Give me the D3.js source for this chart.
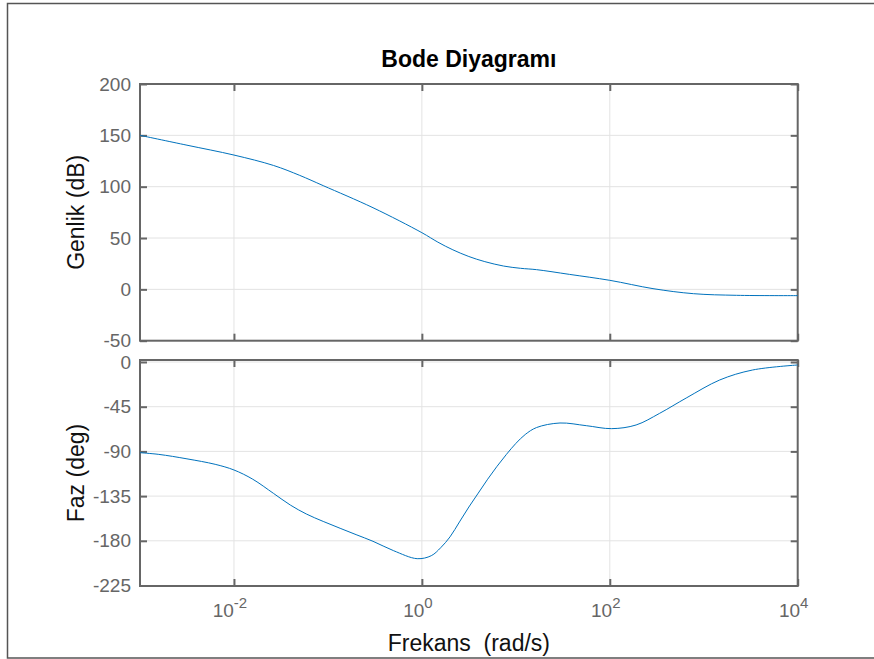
<!DOCTYPE html>
<html>
<head>
<meta charset="utf-8">
<script src="https://cdn.jsdelivr.net/npm/d3@7/dist/d3.min.js"></script>
<style>
  html, body { margin: 0; padding: 0; background: #fff; }
  svg { display: block; font-family: "Liberation Sans", Arial, Helvetica, sans-serif; }
</style>
</head>
<body>
<svg id="chart" width="874" height="659"></svg>
<script>
// ---- Data ----
const titleText = "Bode Diyagramı";
const xLabelText = "Frekans  (rad/s)";
const magLabelText = "Genlik (dB)";
const phaseLabelText = "Faz (deg)";

const xTickExponents = [-2, 0, 2, 4];
const magTicks = [200, 150, 100, 50, 0, -50];
const phaseTicks = [0, -45, -90, -135, -180, -225];

// log10 of frequency (rad/s) and magnitude in dB
const magLogFreq = [-3, -2.5, -2, -1.58, -1.3, -1.05, -0.52, 0.0, 0.17, 0.33, 0.5, 0.67, 0.87, 1.05, 1.22, 1.57, 2.0, 2.46, 2.89, 3.35, 4.0];
const magDb      = [150, 140.4, 130.8, 120.7, 111, 101, 79.5, 55.2, 46, 38.5, 32, 27, 22.7, 20.5, 19.2, 14.6, 8.8, 0.7, -4.2, -5.8, -6.1];

// log10 of frequency (rad/s) and phase in degrees
const phaseLogFreq = [-3, -2.8, -2.5, -2.2, -2.0, -1.8, -1.58, -1.4, -1.23, -1.05, -0.87, -0.7, -0.52, -0.3, -0.05, 0.1, 0.2, 0.3, 0.4, 0.5, 0.6, 0.7, 0.8, 0.9, 1.0, 1.1, 1.22, 1.47, 1.75, 2.02, 2.28, 2.53, 2.82, 3.17, 3.52, 4.0];
const phaseDeg     = [-91.3, -93, -97.5, -103, -108.7, -118, -132.2, -144, -153, -160.5, -167.4, -173.8, -180.5, -190, -198, -195, -187, -176, -161, -146, -132, -118, -105, -93, -82, -73, -66, -61.4, -64.1, -67.1, -63.4, -51.7, -35.9, -18.1, -8.05, -3];

// ---- Layout ----
const svg = d3.select("#chart");
const left = 140, right = 797.7;
const mag = { top: 84, bottom: 340.7, domain: [-50, 200] };
const ph = { top: 360, bottom: 586, y0: 362, y1: 585.5, domain: [-225, 0] };

const x = d3.scaleLog().domain([1e-3, 1e4]).range([left, right]);
const yMag = d3.scaleLinear().domain(mag.domain).range([mag.bottom, mag.top]);
const yPh = d3.scaleLinear().domain(ph.domain).range([ph.y1, ph.y0]);

const axisColor = "#666666";
const gridColor = "#e3e3e3";
const tickLabelColor = "#666666";
const lineColor = "#0072BD";
const tickFont = 19;

// outer frame
svg.append("path")
  .attr("d", "M874,3.5 L7.5,3.5 L7.5,658 L874,658")
  .attr("fill", "none").attr("stroke", "#555").attr("stroke-width", 1.5);

function drawPanel(yScale, top, bottom, yTicks, showXLabels) {
  const g = svg.append("g");
  const xTickVals = xTickExponents.map(e => Math.pow(10, e));
  // grid
  g.selectAll(".gx").data(xTickVals.filter(v => x(v) < right - 1)).enter().append("line")
    .attr("x1", d => x(d)).attr("x2", d => x(d))
    .attr("y1", top).attr("y2", bottom)
    .attr("stroke", gridColor).attr("stroke-width", 1);
  g.selectAll(".gy").data(yTicks).enter().append("line")
    .attr("x1", left).attr("x2", right)
    .attr("y1", d => yScale(d)).attr("y2", d => yScale(d))
    .attr("stroke", gridColor).attr("stroke-width", 1);

  // y axis (left) via d3 axis
  const yAxis = d3.axisLeft(yScale).tickValues(yTicks).tickSize(-7).tickPadding(9)
    .tickFormat(d => d3.format("d")(d).replace("−", "-"));
  const ya = g.append("g").attr("transform", `translate(${left},0)`).call(yAxis);
  ya.select(".domain").remove();
  ya.selectAll(".tick line").attr("stroke", axisColor).attr("stroke-width", 2);
  ya.selectAll(".tick text").attr("fill", tickLabelColor).attr("font-size", tickFont)
    .attr("font-family", '"Liberation Sans", Arial, sans-serif');

  // right ticks
  const yAxisR = d3.axisRight(yScale).tickValues(yTicks).tickSize(-7).tickFormat("");
  const yr = g.append("g").attr("transform", `translate(${right},0)`).call(yAxisR);
  yr.select(".domain").remove();
  yr.selectAll(".tick line").attr("stroke", axisColor).attr("stroke-width", 2);

  // top/bottom x ticks
  const xa = d3.axisBottom(x).tickValues(xTickVals).tickSize(-7).tickFormat("");
  const xb = g.append("g").attr("transform", `translate(0,${bottom})`).call(xa);
  xb.select(".domain").remove();
  xb.selectAll(".tick line").attr("stroke", axisColor).attr("stroke-width", 2);
  const xt = d3.axisTop(x).tickValues(xTickVals).tickSize(-7).tickFormat("");
  const xtop = g.append("g").attr("transform", `translate(0,${top})`).call(xt);
  xtop.select(".domain").remove();
  xtop.selectAll(".tick line").attr("stroke", axisColor).attr("stroke-width", 2);

  // box
  g.append("rect").attr("x", left).attr("y", top)
    .attr("width", right - left).attr("height", bottom - top)
    .attr("fill", "none").attr("stroke", axisColor).attr("stroke-width", 2);

  if (showXLabels) {
    const lab = g.selectAll(".xl").data(xTickExponents).enter().append("text")
      .attr("x", d => x(Math.pow(10, d)) - 4)
      .attr("y", bottom + 31)
      .attr("text-anchor", "middle")
      .attr("fill", tickLabelColor).attr("font-size", tickFont);
    lab.append("tspan").text("10");
    lab.append("tspan").attr("dy", -9).attr("font-size", 15).text(d => d < 0 ? "-" + Math.abs(d) : String(d));
  }
  return g;
}

drawPanel(yMag, mag.top, mag.bottom, magTicks, false);
drawPanel(yPh, ph.top, ph.bottom, phaseTicks, true);

// curves
const magData = magLogFreq.map((lf, i) => ({ f: Math.pow(10, lf), v: magDb[i] }));
const phData = phaseLogFreq.map((lf, i) => ({ f: Math.pow(10, lf), v: phaseDeg[i] }));

svg.append("path").datum(magData)
  .attr("d", d3.line().x(d => x(d.f)).y(d => yMag(d.v)).curve(d3.curveCatmullRom.alpha(0.5)))
  .attr("fill", "none").attr("stroke", lineColor).attr("stroke-width", 1);
svg.append("path").datum(phData)
  .attr("d", d3.line().x(d => x(d.f)).y(d => yPh(d.v)).curve(d3.curveCatmullRom.alpha(0.5)))
  .attr("fill", "none").attr("stroke", lineColor).attr("stroke-width", 1);

// labels
const cx = (left + right) / 2;
svg.append("text").attr("x", cx).attr("y", 67).attr("text-anchor", "middle")
  .attr("font-size", 23).attr("font-weight", "bold").attr("fill", "#000").text(titleText);
svg.append("text").attr("x", cx).attr("y", 651).attr("text-anchor", "middle")
  .attr("font-size", 23).attr("fill", "#111")
  .style("white-space", "pre").text(xLabelText);
svg.append("text").attr("transform", `translate(84,${(mag.top + mag.bottom) / 2}) rotate(-90)`)
  .attr("text-anchor", "middle").attr("font-size", 23).attr("fill", "#111").text(magLabelText);
svg.append("text").attr("transform", `translate(84,${(ph.top + ph.bottom) / 2}) rotate(-90)`)
  .attr("text-anchor", "middle").attr("font-size", 23).attr("fill", "#111").text(phaseLabelText);
</script>
</body>
</html>
